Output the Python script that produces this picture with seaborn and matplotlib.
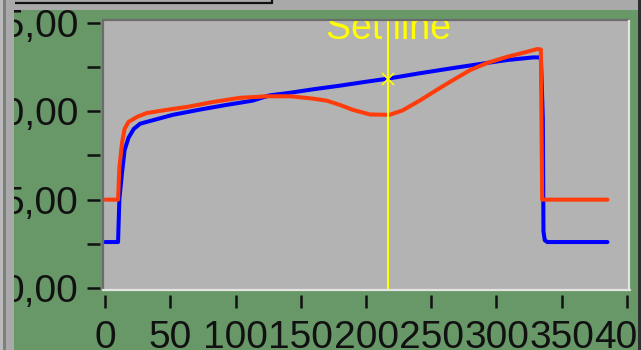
import numpy as np
import pandas as pd
import matplotlib
matplotlib.use("Agg")
import matplotlib.pyplot as plt
import seaborn as sns
from matplotlib.patches import Rectangle
from matplotlib.lines import Line2D
from matplotlib.transforms import Bbox, TransformedBbox

# ---- data -------------------------------------------------------------
x_blue = [0, 10, 11, 13, 15, 18, 22, 27, 37, 52, 73, 93, 113, 126, 142, 160,
          180, 198, 217, 241, 267, 293, 308, 328, 334, 335.5, 336, 337, 339, 385]
y_blue = [2.6, 2.6, 5.0, 6.5, 7.8, 8.5, 9.0, 9.3, 9.5, 9.8, 10.1, 10.36, 10.6,
          10.9, 11.05, 11.25, 11.45, 11.65, 11.85, 12.15, 12.45, 12.74, 12.9,
          13.05, 13.05, 9.6, 3.2, 2.7, 2.6, 2.6]

x_red = [0, 10, 11, 13, 15, 18, 25, 32, 47, 63, 83, 103, 124, 142, 159, 170,
         180, 190, 203, 218, 228, 241, 254, 267, 280, 293, 308, 323, 331, 334,
         335, 385]
y_red = [5.0, 5.0, 6.8, 8.2, 9.0, 9.4, 9.7, 9.9, 10.08, 10.25, 10.53, 10.76,
         10.85, 10.85, 10.72, 10.6, 10.36, 10.08, 9.82, 9.8, 10.05, 10.6, 11.2,
         11.78, 12.34, 12.74, 13.08, 13.36, 13.52, 13.5, 5.0, 5.0]

x_ticks = [0, 50, 100, 150, 200, 250, 300, 350, 400]
x_tick_labels = ["0", "50", "100", "150", "200", "250", "300", "350", "400"]
y_ticks = [0, 5, 10, 15]
y_tick_labels = ["0,00", "5,00", "10,00", "15,00"]
y_minor_ticks = [2.5, 7.5, 12.5]

cursor_x = 217
cursor_label = "Set line"

# ---- style --------------------------------------------------------------
W, H = 641, 350
BG = "#a9a9a9"
PANEL = "#689868"
PLOT_BG = "#b3b3b3"
BLUE = "#0000ff"
RED = "#ff3c0a"
YELLOW = "#ffff00"

sns.set_theme(style="white")
plt.rcParams["font.family"] = ["Liberation Sans", "DejaVu Sans"]

fig = plt.figure(figsize=(W / 100, H / 100), dpi=100, facecolor=BG)


def fx(px):
    return px / W


def fy(py):
    return 1 - py / H


def fig_rect(x0, y0, x1, y1, color, z=-5):
    fig.add_artist(Rectangle((fx(x0), fy(y1)), fx(x1) - fx(x0), fy(y0) - fy(y1),
                             transform=fig.transFigure, facecolor=color,
                             edgecolor="none", zorder=z))


def fig_line(xs, ys, color, lw, z=5):
    fig.add_artist(Line2D([fx(v) for v in xs], [fy(v) for v in ys],
                          transform=fig.transFigure, color=color, lw=lw,
                          solid_capstyle="butt", zorder=z))


# window frame and green panel
fig_rect(0, 0, 3, 350, "#bababa")
fig_rect(3, 0, 6, 350, "#7e7e7e")
fig_rect(14, 10, 638, 350, PANEL)
fig_rect(638, 0, 641, 350, "#2e2e2e")
fig_line([15, 272], [2.5, 2.5], "#111111", 1.6)
fig_line([272, 272], [0, 3.5], "#111111", 1.6)

# plot area
L, R, T, B = 104, 628, 21, 289
ax = fig.add_axes([fx(L), fy(B), fx(R) - fx(L), fy(T) - fy(B)])
ax.set_facecolor(PLOT_BG)

df = pd.concat([
    pd.DataFrame({"t": x_blue, "v": y_blue, "channel": "channel 1"}),
    pd.DataFrame({"t": x_red, "v": y_red, "channel": "channel 2"}),
], ignore_index=True)

sns.lineplot(data=df, x="t", y="v", hue="channel",
             hue_order=["channel 1", "channel 2"],
             palette={"channel 1": BLUE, "channel 2": RED},
             estimator=None, sort=False, legend=False, lw=2.9, ax=ax)

# cursor
ax.axvline(cursor_x, color=YELLOW, lw=1.5, zorder=6)
cursor_y = float(np.interp(cursor_x, x_blue, y_blue))
ax.plot([cursor_x], [cursor_y], marker="x", ms=9, mew=1.2, color=YELLOW,
        linestyle="none", zorder=7)
lab = ax.text(cursor_x, 14.1, cursor_label, color=YELLOW, fontsize=27,
              ha="center", va="baseline", zorder=8)
lab.set_clip_box(ax.bbox)
lab.set_clip_on(True)

ax.set_xlim(-0.77, 400.77)
ax.set_ylim(-0.057, 15.11)
ax.set_xlabel("")
ax.set_ylabel("")

ax.set_xticks(x_ticks)
ax.set_xticklabels(x_tick_labels)
ax.set_yticks(y_ticks)
ax.set_yticklabels(y_tick_labels)
ax.set_yticks(y_minor_ticks, minor=True)

for side in ["top", "right", "left", "bottom"]:
    ax.spines[side].set_visible(False)
ax.spines["left"].set_position(("outward", 2.6))
ax.spines["bottom"].set_position(("outward", 4.3))

ax.tick_params(axis="both", which="both", direction="out", length=9.2,
               width=1.8, color="#111111", labelcolor="#111111", labelsize=28)
ax.tick_params(axis="x", which="both", bottom=True, top=False, pad=8.6)
ax.tick_params(axis="y", which="both", left=True, right=False, pad=6.5)

# sunken border round the plot area
fig_line([L - 1.5, L - 1.5], [T - 2.5, B + 1], "#6c6c6c", 1.6)
fig_line([L - 2.5, R + 1], [T - 1.5, T - 1.5], "#6c6c6c", 1.6)
fig_line([L - 2, R + 2.5], [B + 1, B + 1], "#e4e4e4", 1.6)
fig_line([R + 1.2, R + 1.2], [T - 1, B + 2], "#e4e4e4", 1.6)

# labels that run past the green panel are cut at its edge
panel_box = TransformedBbox(Bbox([[fx(14), fy(350)], [fx(638), fy(10)]]),
                            fig.transFigure)
for t in ax.get_xticklabels() + ax.get_yticklabels():
    t.set_clip_box(panel_box)
    t.set_clip_on(True)

fig.savefig("out.png", dpi=100, facecolor=BG)
